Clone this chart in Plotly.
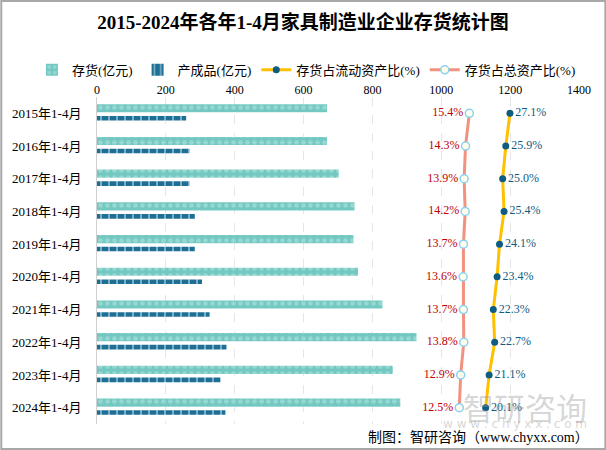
import plotly.graph_objects as go

categories = ["2015年1-4月", "2016年1-4月", "2017年1-4月", "2018年1-4月", "2019年1-4月",
              "2020年1-4月", "2021年1-4月", "2022年1-4月", "2023年1-4月", "2024年1-4月"]
inventory = [668, 668, 702, 748, 745, 758, 829, 928, 859, 881]
finished_goods = [259, 269, 269, 284, 284, 305, 327, 376, 359, 373]
inv_current_ratio = [27.1, 25.9, 25.0, 25.4, 24.1, 23.4, 22.3, 22.7, 21.1, 20.1]
inv_total_ratio = [15.4, 14.3, 13.9, 14.2, 13.7, 13.6, 13.7, 13.8, 12.9, 12.5]
x_ticks = [0, 200, 400, 600, 800, 1000, 1200, 1400]

SERIF = "Liberation Serif, Noto Sans CJK SC, sans-serif"

fig = go.Figure()

fig.add_trace(go.Bar(
    name="存货(亿元)", y=categories, x=inventory, orientation="h",
    offset=-0.28, width=0.25,
    marker=dict(color="#73C9C2", line=dict(width=0),
                pattern=dict(shape=".", fgcolor="#B9E6E1", size=7, solidity=0.35)),
    xaxis="x", yaxis="y",
))
fig.add_trace(go.Bar(
    name="产成品(亿元)", y=categories, x=finished_goods, orientation="h",
    offset=0.08, width=0.14,
    marker=dict(color="#1E6F95", line=dict(width=0),
                pattern=dict(shape="|", fgcolor="#D8EEF5", size=8, solidity=0.25)),
    xaxis="x", yaxis="y",
))
fig.add_trace(go.Scatter(
    name="存货占流动资产比(%)", y=categories, x=inv_current_ratio,
    mode="lines+markers+text",
    line=dict(color="#FFC000", width=3),
    marker=dict(color="#0F5C82", size=7, line=dict(width=0)),
    text=[f"{v:.1f}%" for v in inv_current_ratio], textposition="middle right",
    textfont=dict(color="#0F5C82", size=12, family=SERIF),
    xaxis="x2", yaxis="y", cliponaxis=False,
))
fig.add_trace(go.Scatter(
    name="存货占总资产比(%)", y=categories, x=inv_total_ratio,
    mode="lines+markers+text",
    line=dict(color="#F2927E", width=3),
    marker=dict(color="#FFFDEB", size=8, line=dict(color="#8AD2F0", width=1.5)),
    text=[f"{v:.1f}%" for v in inv_total_ratio], textposition="middle left",
    textfont=dict(color="#C00000", size=12, family=SERIF),
    xaxis="x2", yaxis="y", cliponaxis=False,
))

fig.update_layout(
    width=606, height=450,
    margin=dict(l=97, r=27, t=97, b=26, autoexpand=False),
    paper_bgcolor="white", plot_bgcolor="white",
    font=dict(family=SERIF, size=12, color="#000000"),
    title=dict(text="<b>2015-2024年各年1-4月家具制造业企业存货统计图</b>",
               x=0.5, xanchor="center", y=1 - 22 / 450, yanchor="middle",
               font=dict(size=19, family=SERIF, color="#000")),
    showlegend=True,
    legend=dict(orientation="h", x=-0.135, xanchor="left", y=1.083, yanchor="middle",
                font=dict(size=13, family=SERIF), itemwidth=30, tracegroupgap=0,
                bgcolor="rgba(0,0,0,0)"),
    barmode="overlay",
    xaxis=dict(range=[0, 1400], side="top", tickvals=x_ticks,
               showgrid=True, gridcolor="#E6E6E6", griddash="dash", gridwidth=1,
               zeroline=False, showline=False, ticks="", tickfont=dict(size=12, family=SERIF)),
    xaxis2=dict(range=[-91.9, 47.0], overlaying="x", side="bottom", visible=False),
    yaxis=dict(range=[len(categories) - 0.5, -0.5], type="category", showline=True,
               linecolor="#D0D0D0", linewidth=1, ticks="", ticklabelstandoff=12,
               showgrid=False, tickfont=dict(size=13, family=SERIF)),
)

# watermark
fig.add_annotation(xref="paper", yref="paper", x=1.02, y=0.055, xanchor="right", yanchor="middle",
                   text="智研咨询", showarrow=False,
                   font=dict(size=31, color="rgba(150,150,150,0.4)", family="Noto Sans CJK SC"))
fig.add_annotation(xref="paper", yref="paper", x=1.02, y=0.0, xanchor="right", yanchor="middle",
                   text="w w w . c h y x x . c o m", showarrow=False,
                   font=dict(size=12, color="rgba(150,150,150,0.4)", family="DejaVu Sans"))
# source
fig.add_annotation(xref="paper", yref="paper", x=1.024, y=-0.04, xanchor="right", yanchor="middle",
                   text="制图：智研咨询（www.chyxx.com）", showarrow=False,
                   font=dict(size=14, color="#000", family=SERIF))

# outer border
fig.add_shape(type="rect", xref="paper", yref="paper", x0=-0.1986, x1=1.0547,
              y0=-0.0765, y1=1.2936, line=dict(color="#A8A8A8", width=2), layer="above")

fig.write_html("out.html", config={"displayModeBar": False},
               post_script="document.body.style.margin='0';")
